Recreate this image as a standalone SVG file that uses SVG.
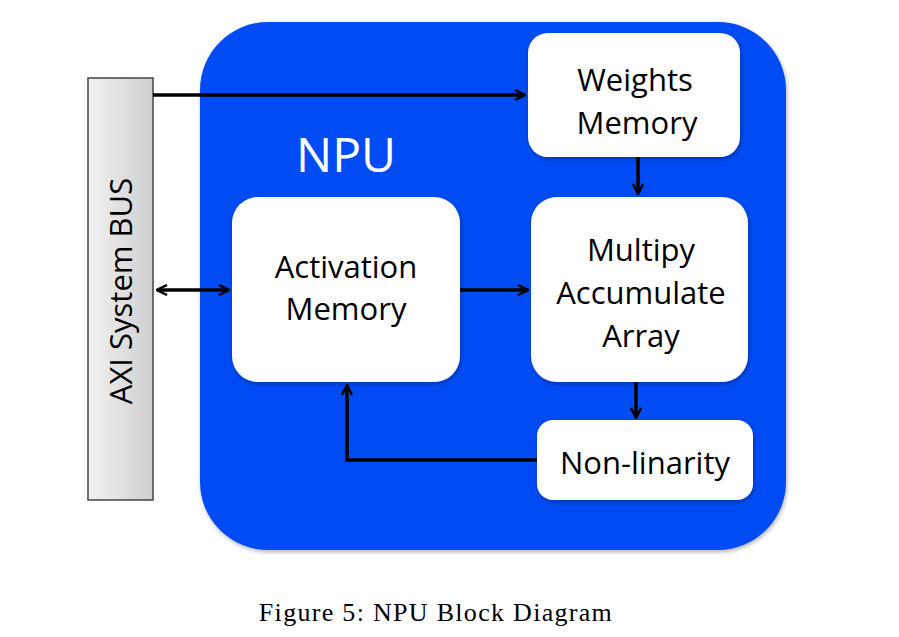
<svg xmlns="http://www.w3.org/2000/svg" width="899" height="637" viewBox="0 0 899 637">
<defs>
<linearGradient id="bus" x1="0" y1="0" x2="1" y2="0">
<stop offset="0" stop-color="#f2f2f2"/>
<stop offset="1" stop-color="#cfcfcf"/>
</linearGradient>
<filter id="sh" x="-10%" y="-10%" width="120%" height="120%">
<feDropShadow dx="1" dy="2" stdDeviation="2" flood-color="#000" flood-opacity="0.3"/>
</filter>
<marker id="ah" viewBox="0 0 12 12" refX="11" refY="6" markerWidth="12" markerHeight="12" markerUnits="userSpaceOnUse" orient="auto-start-reverse">
<path d="M1,1 L11,6 L1,11" fill="none" stroke="#000" stroke-width="2.5" stroke-linejoin="miter"/>
</marker>
<style>
.box{fill:#fff;filter:url(#sh)}
.lbl{font-family:"Open Sans","Liberation Sans",sans-serif;font-size:31px;fill:#000;text-anchor:middle}
.con{fill:none;stroke:#000;stroke-width:3.5}
</style>
</defs>
<rect width="899" height="637" fill="#fff"/>
<g id="npu">
<rect x="200" y="22" width="586" height="528" rx="68" fill="#004cf3" filter="url(#sh)"/>
<text x="346" y="172" font-family="'Open Sans','Liberation Sans',sans-serif" font-size="48" fill="#fff" text-anchor="middle">NPU</text>
</g>
<g id="axi">
<rect x="88" y="78" width="65" height="422" fill="url(#bus)" stroke="#444" stroke-width="1.5"/>
<text class="lbl" transform="translate(132,291) rotate(-90)">AXI System BUS</text>
</g>
<g id="weights">
<rect class="box" x="528" y="33" width="212" height="124" rx="20"/>
<text class="lbl" x="635" y="91">Weights</text>
<text class="lbl" x="637" y="134">Memory</text>
</g>
<g id="activation">
<rect class="box" x="232" y="197" width="228" height="185" rx="26"/>
<text class="lbl" x="346" y="278">Activation</text>
<text class="lbl" x="346" y="320">Memory</text>
</g>
<g id="mac">
<rect class="box" x="531" y="197" width="217" height="185" rx="26"/>
<text class="lbl" x="641" y="261">Multipy</text>
<text class="lbl" x="641" y="304">Accumulate</text>
<text class="lbl" x="641" y="347">Array</text>
</g>
<g id="nonlin">
<rect class="box" x="537" y="420" width="216" height="80" rx="16"/>
<text class="lbl" x="645" y="474">Non-linarity</text>
</g>
<g id="connectors">
<path class="con" d="M153,95 H525" marker-end="url(#ah)"/>
<path class="con" d="M157,290 H229" marker-start="url(#ah)" marker-end="url(#ah)"/>
<path class="con" d="M460,290 H528" marker-end="url(#ah)"/>
<path class="con" d="M638,157 V194" marker-end="url(#ah)"/>
<path class="con" d="M636,382 V418" marker-end="url(#ah)"/>
<path class="con" d="M537,460 H347 V385" marker-end="url(#ah)"/>
</g>
<text x="436" y="621" font-family="'Liberation Serif',serif" font-size="26" letter-spacing="1.3" fill="#000" text-anchor="middle">Figure 5: NPU Block Diagram</text>
</svg>
